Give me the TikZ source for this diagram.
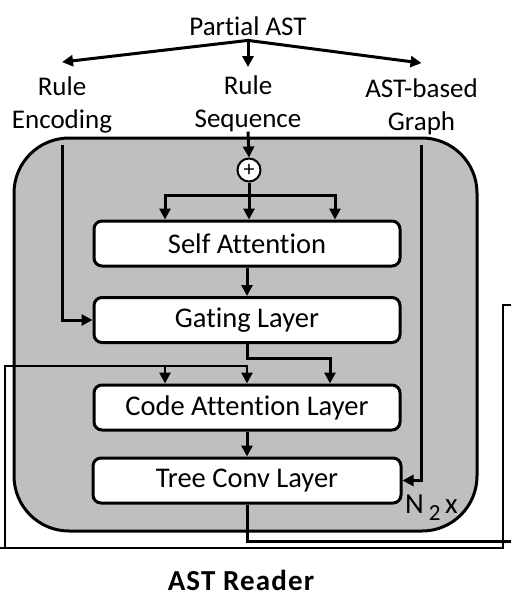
\documentclass[tikz,border=0pt]{standalone}
\usepackage{fontspec}
\setmainfont{Carlito}[Ligatures=NoCommon]
\usetikzlibrary{arrows.meta}
\definecolor{readergray}{RGB}{191,191,191}
\begin{document}
\begin{tikzpicture}[x=1pt, y=-1pt, font=\fontsize{27}{33}\selectfont,
       block/.style={draw, fill=white, rounded corners=8pt, line width=3pt, minimum width=306pt, minimum height=45pt, inner sep=0pt, font=\fontsize{28.5}{33}\selectfont},
       txt/.style={align=center, inner sep=0pt, anchor=base},
       arr/.style={line width=3pt, -{Triangle[length=11pt,width=11pt]}},
       wire/.style={line width=3pt},
       loopline/.style={line width=2.9pt}]

       \useasboundingbox (0,0) rectangle (511,598);

       \node[draw, fill=readergray, rounded corners=55pt, line width=3pt, minimum width=463pt, minimum height=393pt] (reader) at (245.5,334.5) {};

       \node[txt] (partial) at (248,35) {Partial AST};
       \node[txt] (enc) at (62,128) {Rule\\Encoding};
       \node[txt] (seq) at (248,127) {Rule\\Sequence};
       \node[txt] (graph) at (421.5,130) {AST-based\\Graph};

       \node[draw, fill=white, circle, line width=2pt, minimum size=23pt, inner sep=0pt] (plus) at (249,170) {\fontsize{22}{22}\selectfont +};

       \node[block] (sa) at (247,243.5) {Self Attention};
       \node[block] (gate) at (247,320) {Gating Layer};
       \node[block] (code) at (247,407.5) {Code Attention Layer};
       \node[block, minimum width=308pt] (conv) at (247,480.5) {Tree Conv Layer};

       \node[inner sep=0pt, anchor=base west, font=\fontsize{29}{33}\selectfont] (reps) at (405,513) {N\,\raisebox{-7pt}{\fontsize{23}{23}\selectfont 2}\,x};
       \node[txt, font=\fontsize{29}{33}\selectfont\bfseries\addfontfeatures{LetterSpace=4}] (title) at (241,590) {AST Reader};

       \coordinate (split) at ([yshift=-5pt]partial.south);
       \coordinate (fork) at (249,195);
       \coordinate (saleft) at ([xshift=-82pt]sa.north);
       \coordinate (saright) at ([xshift=88pt]sa.north);
       \coordinate (codeleft) at ([xshift=-82pt]code.north);
       \coordinate (coderight) at ([xshift=83pt]code.north);
       \coordinate (fbin) at (511,305);
       \coordinate (fbrow) at (5,366);
       \coordinate (outr) at (511,541);

       \draw[arr] (split) -- ([yshift=14pt]enc.north);
       \draw[arr] (split) -- ([yshift=8pt]seq.north);
       \draw[arr] (split) -- ([yshift=15pt]graph.north);

       \draw[arr] (seq.south) -- (plus.north);
       \draw[wire] (plus.south) -- (fork);
       \draw[arr] (fork) -- (fork |- sa.north);
       \draw[arr] (fork) -| (saleft);
       \draw[arr] (fork) -| (saright);
       \draw[arr] (sa) -- (gate);

       \draw[arr] ([yshift=-12pt]enc.south) |- (gate.west);
       \draw[arr] ([yshift=-10pt]graph.south) |- (conv.east);

       \draw[arr] (gate.south) -- ++(0,14) -| (coderight);
       \draw[loopline] (fbin) -- (503,305) -- (503,548) -- (0,548);
       \draw[arr, loopline] (5,548) -- (fbrow) -| (code.north);
       \draw[arr, loopline] (codeleft |- fbrow) -- (codeleft);
       \draw[arr] (code) -- (conv);
       \draw[wire] (conv.south) |- (outr);
     \end{tikzpicture}
\end{document}
